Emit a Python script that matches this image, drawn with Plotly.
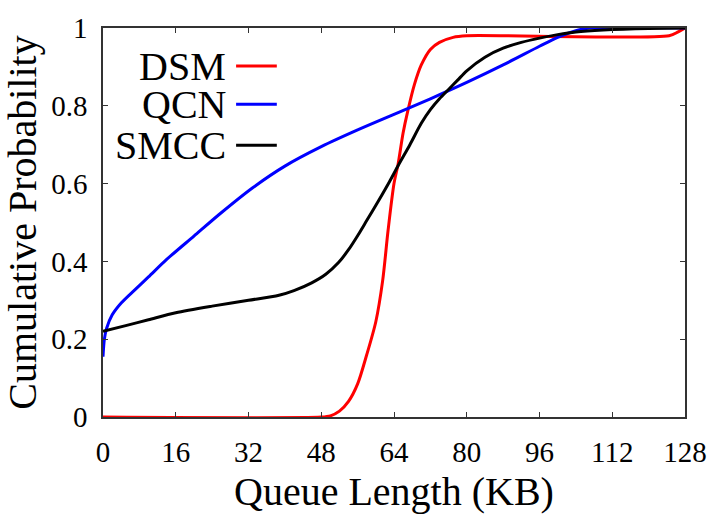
import plotly.graph_objects as go

# ---- data ----
dsm_x = [0, 48, 50, 52, 54, 56, 58, 60, 61.5, 62.7, 64, 64.9, 66, 67, 68.5, 70, 72, 74, 77, 80, 124.5, 126.5, 128]
dsm_y = [0, 0, 0.003, 0.015, 0.04, 0.085, 0.16, 0.245, 0.35, 0.48, 0.6, 0.65, 0.73, 0.785, 0.855, 0.905, 0.945, 0.963, 0.976, 0.98, 0.98, 0.99, 1.0]

qcn_x = [0, 0.3, 0.8, 2, 4, 7, 10, 14, 20, 26, 33, 40, 48, 56, 64, 72, 80, 88, 96, 100, 104, 107, 128]
qcn_y = [0.155, 0.2, 0.228, 0.262, 0.293, 0.327, 0.36, 0.405, 0.465, 0.525, 0.59, 0.645, 0.695, 0.738, 0.778, 0.818, 0.86, 0.905, 0.953, 0.976, 0.993, 1.0, 1.0]

smcc_x = [0, 5, 10, 16, 24, 32, 38.7, 42, 45.9, 49, 51.8, 54, 56.1, 58, 60.5, 63, 64.9, 67.5, 70, 72, 74, 76, 78, 80, 84, 88, 92, 96, 100, 104, 110, 120, 128]
smcc_y = [0.22, 0.235, 0.25, 0.268, 0.285, 0.3, 0.313, 0.325, 0.345, 0.367, 0.397, 0.43, 0.468, 0.505, 0.554, 0.605, 0.646, 0.7, 0.755, 0.79, 0.818, 0.842, 0.866, 0.89, 0.925, 0.948, 0.963, 0.974, 0.983, 0.99, 0.995, 0.999, 1.0]

x_ticks = [0, 16, 32, 48, 64, 80, 96, 112, 128]
y_ticks = [0, 0.2, 0.4, 0.6, 0.8, 1]
y_tick_text = ["0", "0.2", "0.4", "0.6", "0.8", "1"]

series_names = ["DSM", "QCN", "SMCC"]
series_colors = ["#ff0000", "#0000ff", "#000000"]

FONT = "Liberation Serif"

L, R, T, B = 103, 30, 19, 101
W, H = 719, 518
pw, ph = W - L - R, H - T - B

def px2frac(px, py):
    return (px - L) / pw, (H - B - py) / ph

fig = go.Figure()
for name, xs, ys, col in zip(series_names, [dsm_x, qcn_x, smcc_x], [dsm_y, qcn_y, smcc_y], series_colors):
    fig.add_trace(go.Scatter(x=xs, y=ys, mode="lines", name=name,
                             line=dict(color=col, width=3, shape="spline", smoothing=0.8),
                             cliponaxis=False, showlegend=False))

# legend key lines, drawn on a hidden overlay axis spanning the plot area (0..1)
rows_y = [58, 97, 139]
for name, col, ry in zip(series_names, series_colors, rows_y):
    x0, yy = px2frac(237, ry)
    x1, _ = px2frac(278, ry)
    fig.add_trace(go.Scatter(x=[x0, x1], y=[yy, yy], xaxis="x2", yaxis="y2", mode="lines",
                             line=dict(color=col, width=3), cliponaxis=False,
                             showlegend=False, hoverinfo="skip"))

annotations = [dict(text="Queue Length (KB)", xref="paper", yref="paper",
                    x=px2frac(396, 0)[0], y=px2frac(0, 518)[1], xanchor="center", yanchor="bottom",
                    showarrow=False, font=dict(size=40, family=FONT, color="black"))]
for name, ry in zip(series_names, rows_y):
    ax, ay = px2frac(229, ry)
    annotations.append(dict(text=name, xref="paper", yref="paper", x=ax, y=ay,
                            xanchor="right", yanchor="middle", showarrow=False,
                            font=dict(size=40, family=FONT, color="black")))

fig.update_layout(
    width=W, height=H,
    margin=dict(l=L, r=R, t=T, b=B),
    paper_bgcolor="white", plot_bgcolor="white",
    font=dict(family=FONT, color="black", size=29),
    xaxis=dict(range=[0, 128], tickvals=x_ticks, ticks="inside", ticklen=5,
               showline=True, linewidth=1.5, linecolor="#333", tickcolor="#333", mirror="ticks",
               showgrid=False, zeroline=False, ticklabelstandoff=8,
               tickfont=dict(size=29, family=FONT, color="black")),
    yaxis=dict(range=[0, 1], tickvals=y_ticks, ticktext=y_tick_text, ticks="inside", ticklen=5,
               showline=True, linewidth=1.5, linecolor="#333", tickcolor="#333", mirror="ticks",
               showgrid=False, zeroline=False, ticklabelstandoff=8,
               tickfont=dict(size=29, family=FONT, color="black"),
               title=dict(text="Cumulative Probability", standoff=3,
                          font=dict(size=40, family=FONT, color="black"))),
    xaxis2=dict(range=[0, 1], overlaying="x", visible=False, fixedrange=True),
    yaxis2=dict(range=[0, 1], overlaying="y", visible=False, fixedrange=True),
    annotations=annotations,
)

post = """
var gd = document.getElementById('{plot_id}');
function fixFonts() {
  try {
    gd.querySelectorAll('text').forEach(function (t) {
      t.style.fontFamily = '"Liberation Serif", "Times New Roman", Times, serif';
    });
  } catch (e) {}
}
fixFonts();
if (gd && gd.on) { gd.on('plotly_afterplot', fixFonts); }
"""
fig.write_html("out.html", post_script=post)
